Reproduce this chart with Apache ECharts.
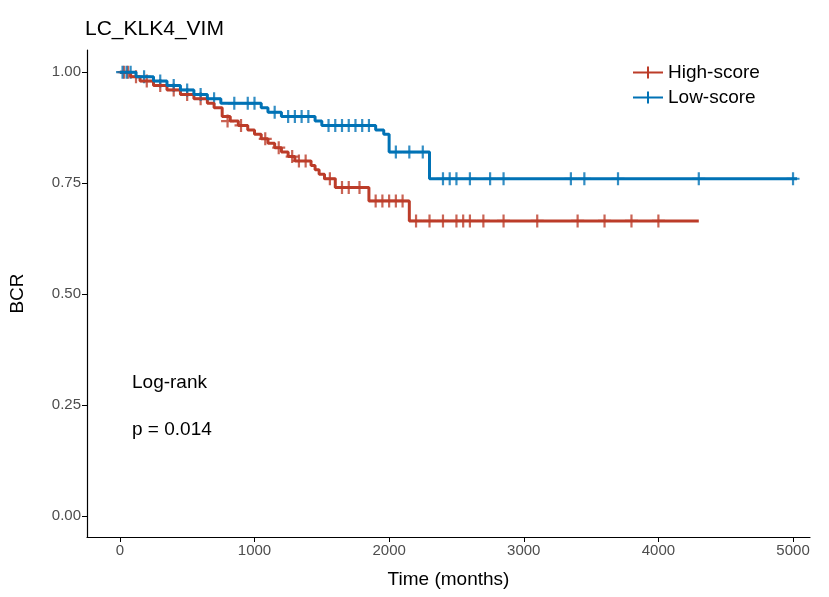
<!DOCTYPE html>
<html><head><meta charset="utf-8">
<script src="https://cdn.jsdelivr.net/npm/echarts@6/dist/echarts.min.js"></script>
<style>html,body{margin:0;padding:0;background:#fff}#c{width:829px;height:597px}</style>
</head><body><div id="c"></div>
<script>
const highTimes = [0,80,150,250,350,450,550,650,700,760,820,880,950,1000,1050,1100,1150,1200,1250,1300,1400,1420,1450,1480,1520,1600,1830,1850,2150,4300];
const highSurv  = [1.0,0.99,0.98,0.97,0.96,0.95,0.94,0.93,0.92,0.90,0.89,0.88,0.87,0.86,0.85,0.84,0.83,0.82,0.81,0.80,0.80,0.79,0.78,0.77,0.76,0.74,0.74,0.71,0.665,0.665];
const lowTimes  = [0,120,250,350,450,550,650,750,1050,1100,1200,1450,1500,1900,1960,2000,2300,5030];
const lowSurv   = [1.0,0.99,0.98,0.97,0.96,0.95,0.94,0.93,0.92,0.91,0.90,0.89,0.88,0.87,0.86,0.82,0.76,0.76];
const highCens = [[30,1.0],[60,1.0],[120,0.99],[200,0.98],[300,0.97],[400,0.96],[500,0.95],[600,0.94],[800,0.89],[900,0.88],[1080,0.85],[1180,0.83],[1280,0.81],[1330,0.80],[1380,0.80],[1560,0.76],[1650,0.74],[1700,0.74],[1780,0.74],[1900,0.71],[1950,0.71],[2000,0.71],[2050,0.71],[2100,0.71],[2200,0.665],[2300,0.665],[2400,0.665],[2500,0.665],[2550,0.665],[2600,0.665],[2700,0.665],[2850,0.665],[3100,0.665],[3400,0.665],[3600,0.665],[3800,0.665],[4000,0.665]];
const lowCens = [[20,1.0],[50,1.0],[80,1.0],[180,0.99],[300,0.98],[400,0.97],[500,0.96],[600,0.95],[700,0.94],[850,0.93],[950,0.93],[1000,0.93],[1150,0.91],[1250,0.90],[1300,0.90],[1350,0.90],[1400,0.90],[1550,0.88],[1600,0.88],[1650,0.88],[1700,0.88],[1750,0.88],[1800,0.88],[1850,0.88],[2050,0.82],[2150,0.82],[2250,0.82],[2400,0.76],[2450,0.76],[2500,0.76],[2600,0.76],[2750,0.76],[2850,0.76],[3350,0.76],[3450,0.76],[3700,0.76],[4300,0.76],[5000,0.76]];
const xTicks = [0,1000,2000,3000,4000,5000];
const yTicks = [0,0.25,0.5,0.75,1.0];
const cHigh = '#BC3C29', cLow = '#0072B5';
const plus = 'path://M-0.17,-1H0.17V-0.17H1V0.17H0.17V1H-0.17V0.17H-1V-0.17H-0.17Z';
const legIcon = 'path://M0,5H30V7H0Z M14,0H16V12H14Z';
const zip = (t,s)=>t.map((v,i)=>[v,s[i]]);
const chart = echarts.init(document.getElementById('c'));
const ax = {show:true,onZero:false,lineStyle:{color:'#000',width:1.2}};
const lbl = {fontFamily:'Liberation Sans',fontSize:15,color:'#4d4d4d'};
chart.setOption({
  animation:false,
  title:{text:'LC_KLK4_VIM',left:80,top:14,textStyle:{fontFamily:'Liberation Sans',fontSize:21,fontWeight:'normal',color:'#000'}},
  legend:{left:628,top:58,orient:'vertical',itemGap:6,itemWidth:30,itemHeight:12,
    textStyle:{fontFamily:'Liberation Sans',fontSize:19,color:'#000'},
    data:[{name:'High-score',icon:legIcon,itemStyle:{color:cHigh}},{name:'Low-score',icon:legIcon,itemStyle:{color:cLow}}]},
  grid:{left:85,right:19,top:50,bottom:60},
  xAxis:{type:'value',min:-244,max:5126,name:'Time (months)',nameLocation:'middle',nameGap:33,
    nameTextStyle:{fontFamily:'Liberation Sans',fontSize:19,color:'#000'},
    axisLine:ax,splitLine:{show:false},
    axisTick:{show:true,length:5,customValues:xTicks,lineStyle:{color:'#000'}},
    axisLabel:{customValues:xTicks,formatter:v=>String(v),margin:6,...lbl}},
  yAxis:{type:'value',min:-0.047,max:1.05,name:'BCR',nameLocation:'middle',nameGap:60,
    nameTextStyle:{fontFamily:'Liberation Sans',fontSize:19,color:'#000'},
    axisLine:ax,splitLine:{show:false},
    axisTick:{show:true,length:5,customValues:yTicks,lineStyle:{color:'#000'}},
    axisLabel:{customValues:yTicks,formatter:v=>v.toFixed(2),margin:6,...lbl}},
  graphic:[
    {type:'text',left:132,top:373,style:{text:'Log-rank',font:'19px Liberation Sans',fill:'#000'}},
    {type:'text',left:132,top:420,style:{text:'p = 0.014',font:'19px Liberation Sans',fill:'#000'}}
  ],
  series:[
    {name:'High-score',type:'line',step:'end',data:zip(highTimes,highSurv),showSymbol:false,lineStyle:{color:cHigh,width:3},itemStyle:{color:cHigh}},
    {name:'Low-score',type:'line',step:'end',data:zip(lowTimes,lowSurv),showSymbol:false,lineStyle:{color:cLow,width:3},itemStyle:{color:cLow}},
    {name:'High-score',type:'scatter',data:highCens,symbol:plus,symbolSize:13,itemStyle:{color:cHigh}},
    {name:'Low-score',type:'scatter',data:lowCens,symbol:plus,symbolSize:13,itemStyle:{color:cLow}}
  ]
});
</script></body></html>
